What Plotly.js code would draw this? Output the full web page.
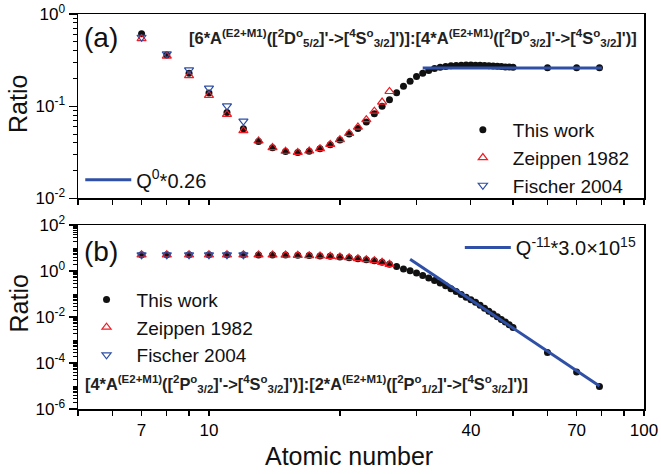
<!DOCTYPE html>
<html>
<head>
<meta charset="utf-8">
<script src="https://cdn.plot.ly/plotly-3.0.1.min.js"></script>
<style>html,body{margin:0;padding:0;background:#fff;}#chart{width:661px;height:474px;}</style>
</head>
<body>
<div id="chart"></div>
<script>
// ---------------- data ----------------
const zThisWork = [7,8,9,10,11,12,13,14,15,16,17,18,19,20,21,22,23,24,25,26,27,28,29,30,31,32,33,34,35,36,37,38,39,40,41,42,43,44,45,46,47,48,49,50,60,70,79];
const ratioA_thisWork = [0.61,0.36,0.228,0.139,0.0857,0.0571,0.0415,0.0354,0.0324,0.0315,0.0326,0.0346,0.0383,0.0430,0.0500,0.0575,0.0673,0.083,0.100,0.1175,0.140,0.165,0.187,0.210,0.228,0.244,0.256,0.265,0.270,0.274,0.277,0.279,0.280,0.280,0.279,0.278,0.277,0.275,0.273,0.271,0.269,0.267,0.266,0.265,0.262,0.262,0.262];
const ratioB_thisWork = [5.1,5.1,5.1,5.1,5.1,5.1,5.05,5.0,4.95,4.85,4.7,4.55,4.37,4.09,3.82,3.46,3.13,2.83,2.40,1.97,1.60,1.24,1.02,0.82,0.64,0.50,0.39,0.30,0.228,0.172,0.128,0.096,0.072,0.0562,0.0437,0.0324,0.024,0.0178,0.0135,0.0102,0.00776,0.00603,0.00457,0.00355,2.9e-4,4.1e-5,9.5e-6];

const zZeippen = [7,8,9,10,11,12,13,14,15,16,17,18,19,20,21,22,23,24,25,26];
const ratioA_zeippen = [0.54,0.35,0.215,0.131,0.0815,0.0543,0.042,0.0356,0.0325,0.0316,0.0327,0.0347,0.0386,0.0434,0.0508,0.0594,0.0715,0.0885,0.111,0.1445];
const ratioB_zeippen = [5.1,5.1,5.1,5.1,5.1,5.1,5.05,5.0,4.95,4.85,4.7,4.55,4.37,4.09,3.82,3.46,3.13,2.83,2.40,1.97];

const zFischer = [7,8,9,10,11,12];
const ratioA_fischer = [0.56,0.37,0.248,0.157,0.101,0.069];
const ratioB_fischer = [5.1,5.1,5.1,5.1,5.1,5.1];

const zFitA = [31,80];
const fitA = [0.26,0.26];
const zFitB = [29,79];
const fitB = [3.3,1.0e-5];

const xTickVals = [7,10,40,70,100];
const xTickText = ['7','10','40','70','100'];
const xMinorVals = [5,6,8,9,20,30,50,60,80,90];
const yTickValsA = [0.01,0.1,1];
const yTickTextA = ['10<sup>-2</sup>','10<sup>-1</sup>','10<sup>0</sup>'];
const yTickValsB = [1e-6,1e-4,1e-2,1,100];
const yTickTextB = ['10<sup>-6</sup>','10<sup>-4</sup>','10<sup>-2</sup>','10<sup>0</sup>','10<sup>2</sup>'];

// ---------------- styling ----------------
const FONT = 'Liberation Sans, Arial, sans-serif';
const RED = '#ee1c24';
const BLUE = '#2e4fa6';
const LINEBLUE = '#2f50a6';

function minorVals(lo, hi) {
  const out = [];
  for (let e = lo; e < hi; e++) {
    for (let m = 2; m <= 9; m++) out.push(m * Math.pow(10, e));
  }
  return out;
}
const minorA = minorVals(-2, 0);
const minorB = minorVals(-6, 2).concat([1e-5,1e-3,0.1,10]);

const blackMarker = {symbol:'circle', size:7, color:'#111'};
const redMarker = {symbol:'triangle-up-open', size:8, color:RED, line:{width:1.2}};
const blueMarker = {symbol:'triangle-down-open', size:8, color:BLUE, line:{width:1.2}};

const traces = [
  {x:zThisWork, y:ratioA_thisWork, xaxis:'x', yaxis:'y', mode:'markers', name:'This work', marker:blackMarker, legend:'legend'},
  {x:zZeippen, y:ratioA_zeippen, xaxis:'x', yaxis:'y', mode:'markers', name:'Zeippen 1982', marker:redMarker, legend:'legend'},
  {x:zFischer, y:ratioA_fischer, xaxis:'x', yaxis:'y', mode:'markers', name:'Fischer 2004', marker:blueMarker, legend:'legend'},
  {x:zFitA, y:fitA, xaxis:'x', yaxis:'y', mode:'lines', name:'Q<sup>0</sup>*0.26', line:{color:LINEBLUE, width:3}, legend:'legend2'},

  {x:zThisWork, y:ratioB_thisWork, xaxis:'x2', yaxis:'y2', mode:'markers', name:'This work', marker:blackMarker, legend:'legend3'},
  {x:zZeippen, y:ratioB_zeippen, xaxis:'x2', yaxis:'y2', mode:'markers', name:'Zeippen 1982', marker:redMarker, legend:'legend3'},
  {x:zFischer, y:ratioB_fischer, xaxis:'x2', yaxis:'y2', mode:'markers', name:'Fischer 2004', marker:blueMarker, legend:'legend3'},
  {x:zFitB, y:fitB, xaxis:'x2', yaxis:'y2', mode:'lines', name:'Q<sup>-11</sup>*3.0×10<sup>15</sup>', line:{color:LINEBLUE, width:3}, legend:'legend4'}
];

const tickFont = {family:FONT, size:17, color:'#000'};
const xBase = {
  type:'log', range:[Math.log10(5), 2], tickmode:'array', tickvals:xTickVals, ticktext:xTickText,
  ticks:'outside', ticklen:5, tickwidth:1.2, tickcolor:'#000', showline:true, linecolor:'#000', linewidth:1.5,
  mirror:true, showgrid:false, zeroline:false, tickfont:tickFont,
  minor:{tickmode:'array', tickvals:xMinorVals, ticks:'outside', ticklen:5, tickwidth:1.2, tickcolor:'#000', showgrid:false}
};
function yBase(range, tv, tt, minor, domain) {
  return {type:'log', range:range, domain:domain, tickmode:'array', tickvals:tv, ticktext:tt,
    ticks:'outside', ticklen:8, tickwidth:1.2, tickcolor:'#000', showline:true, linecolor:'#000', linewidth:1.5,
    mirror:true, showgrid:false, zeroline:false, tickfont:tickFont,
    minor:{tickmode:'array', tickvals:minor, ticks:'outside', ticklen:4, tickwidth:1, tickcolor:'#000', showgrid:false}};
}
function yRight(range, tv, minor, over, anchor) {
  return {type:'log', range:range, overlaying:over, side:'right', anchor:anchor, tickmode:'array', tickvals:tv,
    showticklabels:false, ticks:'inside', ticklen:8, tickwidth:1.2, tickcolor:'#000', showgrid:false, zeroline:false, showline:false,
    minor:{tickmode:'array', tickvals:minor, ticks:'inside', ticklen:4, tickwidth:1, tickcolor:'#000', showgrid:false}};
}

const legFont = {family:FONT, size:19, color:'#111'};
const layout = {
  width:661, height:474,
  margin:{l:77.5, r:16.5, t:13.5, b:64.7},
  paper_bgcolor:'#fff', plot_bgcolor:'#fff',
  font:{family:FONT, color:'#000'},
  xaxis:Object.assign({}, xBase, {anchor:'y', showticklabels:false}),
  xaxis2:Object.assign({}, xBase, {anchor:'y2'}),
  yaxis:yBase([-2,0], yTickValsA, yTickTextA, minorA, [0.533,1]),
  yaxis2:yBase([-6,2], yTickValsB, yTickTextB, minorB, [0,0.4656]),
  yaxis3:yRight([-2,0], yTickValsA, minorA, 'y', 'x'),
  yaxis4:yRight([-6,2], yTickValsB, minorB, 'y2', 'x2'),
  showlegend:true,
  legend:{x:0.6623, y:0.7544, xanchor:'left', yanchor:'top', bgcolor:'rgba(0,0,0,0)', font:legFont, itemwidth:50},
  legend2:{x:0.004, y:0.6297, xanchor:'left', yanchor:'top', bgcolor:'rgba(0,0,0,0)', font:{family:FONT, size:20, color:'#111'}, itemwidth:46},
  legend3:{x:-0.0026, y:0.325, xanchor:'left', yanchor:'top', bgcolor:'rgba(0,0,0,0)', font:legFont, itemwidth:50},
  legend4:{x:0.6746, y:0.458, xanchor:'left', yanchor:'top', bgcolor:'rgba(0,0,0,0)', font:{family:FONT, size:20, color:'#111'}, itemwidth:46},
  annotations:[
    {text:'(a)', xref:'paper', yref:'paper', x:0.0414, y:0.9414, xanchor:'center', yanchor:'middle', showarrow:false, font:{family:FONT, size:28, color:'#111'}},
    {text:'(b)', xref:'paper', yref:'paper', x:0.0414, y:0.398, xanchor:'center', yanchor:'middle', showarrow:false, font:{family:FONT, size:28, color:'#111'}},
    {text:"<b>[6*A<sup>(E2+M1)</sup>([<sup>2</sup>D<sup>o</sup><sub>5/2</sub>]'->[<sup>4</sup>S<sup>o</sup><sub>3/2</sub>]')]:[4*A<sup>(E2+M1)</sup>([<sup>2</sup>D<sup>o</sup><sub>3/2</sub>]'->[<sup>4</sup>S<sup>o</sup><sub>3/2</sub>]')]</b>",
      xref:'paper', yref:'paper', x:0.5917, y:0.938, xanchor:'center', yanchor:'middle', showarrow:false, font:{family:FONT, size:16.5, color:'#222'}},
    {text:"<b>[4*A<sup>(E2+M1)</sup>([<sup>2</sup>P<sup>o</sup><sub>3/2</sub>]'->[<sup>4</sup>S<sup>o</sup><sub>3/2</sub>]')]:[2*A<sup>(E2+M1)</sup>([<sup>2</sup>P<sup>o</sup><sub>1/2</sub>]'->[<sup>4</sup>S<sup>o</sup><sub>3/2</sub>]')]</b>",
      xref:'paper', yref:'paper', x:0.403, y:0.064, xanchor:'center', yanchor:'middle', showarrow:false, font:{family:FONT, size:16.4, color:'#222'}},
    {text:'Ratio', xref:'paper', yref:'paper', x:-0.105, y:0.771, xanchor:'center', yanchor:'middle', textangle:-90, showarrow:false, font:{family:FONT, size:25, color:'#111'}},
    {text:'Ratio', xref:'paper', yref:'paper', x:-0.105, y:0.266, xanchor:'center', yanchor:'middle', textangle:-90, showarrow:false, font:{family:FONT, size:25, color:'#111'}},
    {text:'Atomic number', xref:'paper', yref:'paper', x:0.479, y:-0.12, xanchor:'center', yanchor:'middle', showarrow:false, font:{family:FONT, size:25, color:'#111'}}
  ]
};

Plotly.newPlot('chart', traces, layout, {displayModeBar:false, staticPlot:true});
</script>
</body>
</html>
